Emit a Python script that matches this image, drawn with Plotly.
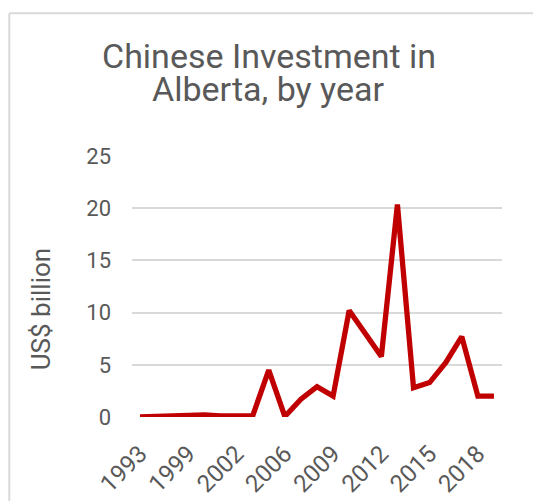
import plotly.graph_objects as go

years = ["1993", "1995", "1997", "1999", "2000", "2001", "2002", "2004", "2005",
         "2006", "2007", "2008", "2009", "2010", "2011", "2012", "2013", "2014",
         "2015", "2016", "2017", "2018", "2019"]
values = [0.0, 0.03, 0.05, 0.05, 0.2, 0.1, 0.1, 0.1, 4.5,
          0.05, 1.7, 2.9, 2.0, 10.2, 8.0, 5.8, 20.35, 2.8,
          3.3, 5.2, 7.7, 2.0, 2.0]
title_lines = ["Chinese Investment in", "Alberta, by year"]
y_title = "US$ billion"

W, H = 533, 501
L, R, T, B = 131.7, 501.7, 155.7, 417.3
pw, ph = R - L, B - T

def px(x):
    return (x - L) / pw

def py(y):
    return (B - y) / ph

idx = list(range(len(years)))
tick_idx = idx[::3]

fig = go.Figure()
fig.add_trace(go.Scatter(
    x=idx, y=values, mode="lines",
    line=dict(color="#C00000", width=5.3, shape="linear"),
    hoverinfo="skip", showlegend=False,
))

font_family = "Roboto"
txt = "#595959"

fig.update_layout(
    width=W, height=H,
    margin=dict(l=L, r=W - R, t=T, b=H - B),
    paper_bgcolor="white", plot_bgcolor="white",
    font=dict(family=font_family, color=txt),
    showlegend=False,
    xaxis=dict(
        range=[-0.5, len(years) - 0.5],
        tickmode="array", tickvals=tick_idx, ticktext=[years[i] for i in tick_idx],
        tickangle=-45, tickfont=dict(size=24, color=txt),
        ticklabelstandoff=17, automargin=False,
        showgrid=False, zeroline=False, showline=False, ticks="",
    ),
    yaxis=dict(
        range=[0, 25], dtick=5, tick0=0,
        tickfont=dict(size=22, color=txt),
        showgrid=True, gridcolor="#d9d9d9", gridwidth=1.7,
        zeroline=False, showline=False, ticks="",
        ticklabelstandoff=20, automargin=False,
    ),
    shapes=[
        dict(type="line", xref="paper", yref="paper",
             x0=px(9), x1=px(540), y0=py(12.5), y1=py(12.5),
             line=dict(color="#d9d9d9", width=2)),
        dict(type="line", xref="paper", yref="paper",
             x0=px(9), x1=px(9), y0=py(12.5), y1=py(510),
             line=dict(color="#d9d9d9", width=2)),
    ],
    annotations=[
        dict(text=title_lines[0], xref="paper", yref="paper",
             x=px(269), y=py(55), xanchor="center", yanchor="middle",
             showarrow=False, font=dict(size=34, color=txt, family=font_family)),
        dict(text=title_lines[1], xref="paper", yref="paper",
             x=px(268), y=py(89), xanchor="center", yanchor="middle",
             showarrow=False, font=dict(size=34, color=txt, family=font_family)),
        dict(text=y_title, xref="paper", yref="paper", textangle=-90,
             x=px(41), y=py(309), xanchor="center", yanchor="middle",
             showarrow=False, font=dict(size=26, color=txt, family=font_family)),
    ],
)

fig.write_html("out.html")
